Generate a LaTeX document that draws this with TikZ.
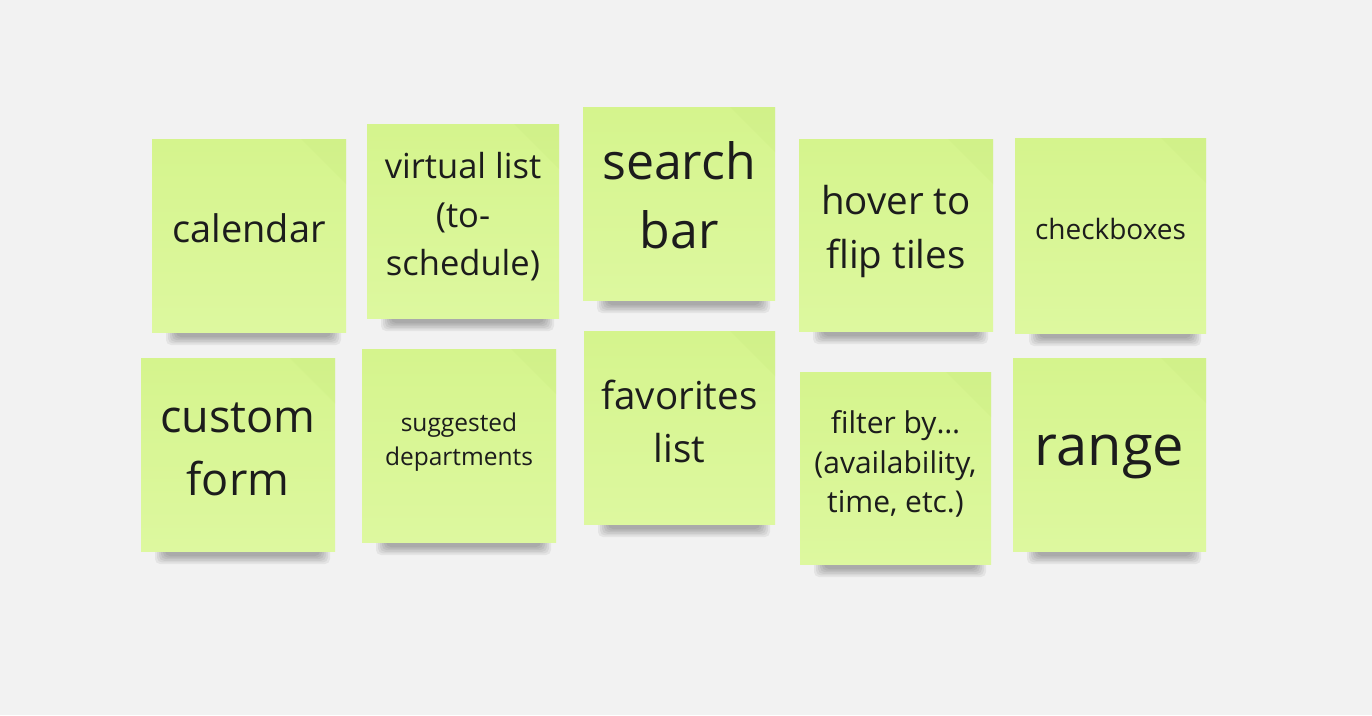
\documentclass[tikz,border=0pt]{standalone}
\usepackage{fontspec}
\setmainfont{Open Sans}
\definecolor{board}{HTML}{F2F2F2}
\definecolor{notetop}{HTML}{D5F48D}
\definecolor{notebottom}{HTML}{DDF89F}
\definecolor{notefold}{HTML}{C9EC80}
\definecolor{notetext}{HTML}{1C1C1C}
\tikzset{
  note/.style={rectangle, inner sep=0pt, align=center, text=notetext,
    top color=notetop, bottom color=notebottom},
  noteshadow/.style={fill=black, opacity=0.055, rounded corners=5pt},
  notelabel/.style={align=center, text=notetext, inner sep=0pt}
}
% #1 name, #2-#5 corners (x0,y0,x1,y1), #6 font size, #7 line spacing,
% #8 vertical offset of the label, #9 label text
\newcommand\stickynote[9]{%
  \foreach \k in {0,...,5}
    \fill[noteshadow] (#2+14+2*\k, #5-4) rectangle (#4-5-2*\k, #5+13-1.6*\k);
  \node[note, minimum width={(#4-#2)*1pt}, minimum height={(#5-#3)*1pt}]
    (#1) at ({(#2+#4)/2}, {(#3+#5)/2}) {};
  % faint curl at the upper right corner
  \fill[notefold, opacity=0.25] (#4-45, #3) -- (#4, #3) -- (#4, #3+45) -- cycle;
  \node[notelabel, font=\fontsize{#6pt}{#7pt}\selectfont, yshift=#8pt]
    (#1-text) at (#1.center) {#9};
}
\begin{document}
\begin{tikzpicture}[x=1pt,y=-1pt]
  \fill[board] (0,0) rectangle (1372,715);
  \useasboundingbox (0,0) rectangle (1372,715);
  % top row
  \stickynote{calendar}{152}{139}{346}{332}{38}{52}{7}{calendar}
  \stickynote{virtual}{367}{124}{559}{318}{34.5}{48.5}{4}{virtual list\\(to-\\schedule)}
  \stickynote{search}{583}{107}{775}{300}{50}{69}{8}{search\\bar}
  \stickynote{hover}{799}{139}{993}{331}{38.5}{54}{3.5}{hover to\\flip tiles}
  \stickynote{checkboxes}{1015}{138}{1206}{333}{28}{38}{7}{checkboxes}
  % bottom row
  \stickynote{custom}{141}{358}{335}{551}{45}{63}{5}{custom\\form}
  \stickynote{suggested}{362}{349}{556}{542}{24.5}{34}{3}{suggested\\departments}
  \stickynote{favorites}{584}{331}{775}{524}{38.5}{53}{6}{favorites\\list}
  \stickynote{filter}{800}{372}{991}{564}{30}{39.5}{4}{filter by…\\(availability,\\time, etc.)}
  \stickynote{range}{1013}{358}{1206}{551}{56}{76}{-2}{range}
\end{tikzpicture}
\end{document}
